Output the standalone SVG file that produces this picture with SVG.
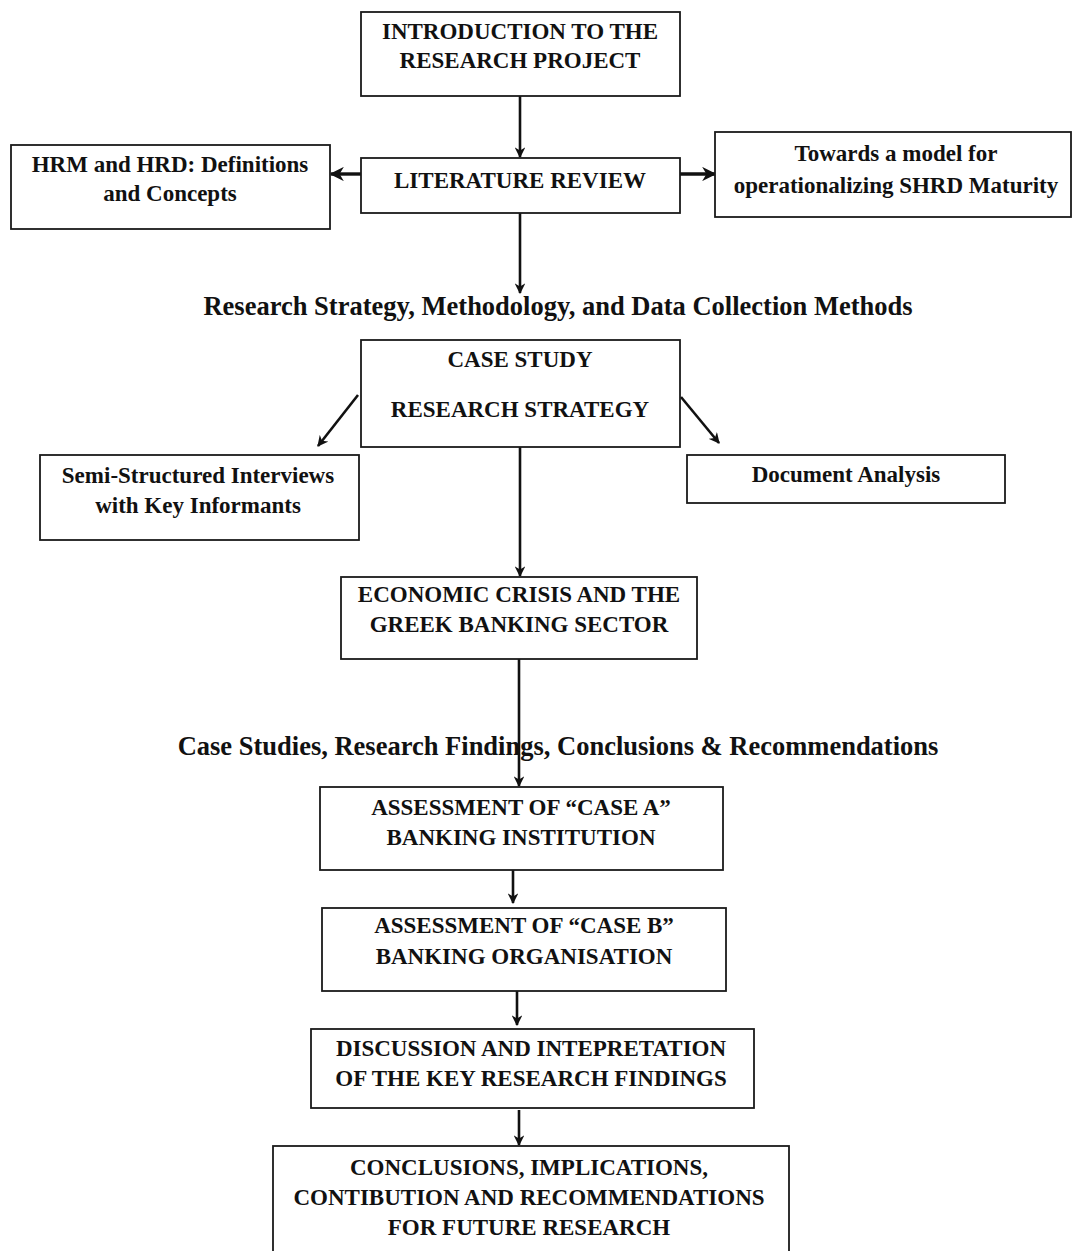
<svg xmlns="http://www.w3.org/2000/svg" width="1073" height="1251" viewBox="0 0 1073 1251">
  <style>
    .box { fill: #ffffff; stroke: #1a1a1a; stroke-width: 1.8; }
    .t { font-family: "Liberation Serif", "Times New Roman", serif; font-weight: bold; font-size: 23px; fill: #111111; text-anchor: middle; }
    .h { font-family: "Liberation Serif", "Times New Roman", serif; font-weight: bold; font-size: 26.5px; fill: #111111; text-anchor: middle; }
    .c { fill: none; stroke: #111111; stroke-width: 2.6; }
    .c-thick { fill: none; stroke: #111111; stroke-width: 3.4; }
  </style>
  <defs>
    <marker id="arr" viewBox="0 0 10 10" refX="9" refY="5" markerWidth="4.2" markerHeight="4.2" markerUnits="strokeWidth" orient="auto">
      <path d="M0,0 L10,5 L0,10 L3,5 Z" fill="#111111"/>
    </marker>
  </defs>

  <rect width="1073" height="1251" fill="#ffffff"/>

  <!-- connectors -->
  <g id="connectors">
    <line class="c" x1="520" y1="96" x2="520" y2="157" marker-end="url(#arr)"/>
    <line class="c-thick" x1="361" y1="174" x2="331" y2="174" marker-end="url(#arr)"/>
    <line class="c-thick" x1="680" y1="174" x2="715" y2="174" marker-end="url(#arr)"/>
    <line class="c" x1="520" y1="213" x2="520" y2="293" marker-end="url(#arr)"/>
    <line class="c" x1="358" y1="395" x2="318" y2="446" marker-end="url(#arr)"/>
    <line class="c" x1="681" y1="397" x2="719" y2="443" marker-end="url(#arr)"/>
    <line class="c" x1="520" y1="447" x2="520" y2="576" marker-end="url(#arr)"/>
    <line class="c" x1="519" y1="659" x2="519" y2="786" marker-end="url(#arr)"/>
    <line class="c" x1="513" y1="870" x2="513" y2="903" marker-end="url(#arr)"/>
    <line class="c" x1="517" y1="991" x2="517" y2="1025" marker-end="url(#arr)"/>
    <line class="c" x1="519" y1="1110" x2="519" y2="1145" marker-end="url(#arr)"/>
  </g>

  <!-- section headings -->
  <text id="heading-methods" class="h" x="558" y="315">Research Strategy, Methodology, and Data Collection Methods</text>
  <text id="heading-cases" class="h" x="558" y="755">Case Studies, Research Findings, Conclusions &amp; Recommendations</text>

  <g id="intro">
    <rect class="box" x="361" y="12" width="319" height="84"/>
    <text class="t" x="520" y="39">INTRODUCTION TO THE</text>
    <text class="t" x="520" y="68">RESEARCH PROJECT</text>
  </g>

  <g id="literature">
    <rect class="box" x="361" y="158" width="319" height="55"/>
    <text class="t" x="520" y="188">LITERATURE REVIEW</text>
  </g>

  <g id="hrm-hrd">
    <rect class="box" x="11" y="145" width="319" height="84"/>
    <text class="t" x="170" y="172">HRM and HRD: Definitions</text>
    <text class="t" x="170" y="201">and Concepts</text>
  </g>

  <g id="shrd-model">
    <rect class="box" x="715" y="132" width="356" height="85"/>
    <text class="t" x="896" y="161">Towards a model for</text>
    <text class="t" x="896" y="193">operationalizing SHRD Maturity</text>
  </g>

  <g id="case-study">
    <rect class="box" x="361" y="340" width="319" height="107"/>
    <text class="t" x="520" y="367">CASE STUDY</text>
    <text class="t" x="520" y="417">RESEARCH STRATEGY</text>
  </g>

  <g id="interviews">
    <rect class="box" x="40" y="455" width="319" height="85"/>
    <text class="t" x="198" y="483">Semi-Structured Interviews</text>
    <text class="t" x="198" y="513">with Key Informants</text>
  </g>

  <g id="documents">
    <rect class="box" x="687" y="455" width="318" height="48"/>
    <text class="t" x="846" y="482">Document Analysis</text>
  </g>

  <g id="economic-crisis">
    <rect class="box" x="341" y="577" width="356" height="82"/>
    <text class="t" x="519" y="602">ECONOMIC CRISIS AND THE</text>
    <text class="t" x="519" y="632">GREEK BANKING SECTOR</text>
  </g>

  <g id="case-a">
    <rect class="box" x="320" y="787" width="403" height="83"/>
    <text class="t" x="521" y="815">ASSESSMENT OF “CASE A”</text>
    <text class="t" x="521" y="845">BANKING INSTITUTION</text>
  </g>

  <g id="case-b">
    <rect class="box" x="322" y="908" width="404" height="83"/>
    <text class="t" x="524" y="933">ASSESSMENT OF “CASE B”</text>
    <text class="t" x="524" y="964">BANKING ORGANISATION</text>
  </g>

  <g id="discussion">
    <rect class="box" x="311" y="1029" width="443" height="79"/>
    <text class="t" x="531" y="1056">DISCUSSION AND INTEPRETATION</text>
    <text class="t" x="531" y="1086">OF THE KEY RESEARCH FINDINGS</text>
  </g>

  <g id="conclusions">
    <rect class="box" x="273" y="1146" width="516" height="120"/>
    <text class="t" x="529" y="1175">CONCLUSIONS, IMPLICATIONS,</text>
    <text class="t" x="529" y="1205">CONTIBUTION AND RECOMMENDATIONS</text>
    <text class="t" x="529" y="1235">FOR FUTURE RESEARCH</text>
  </g>
</svg>
